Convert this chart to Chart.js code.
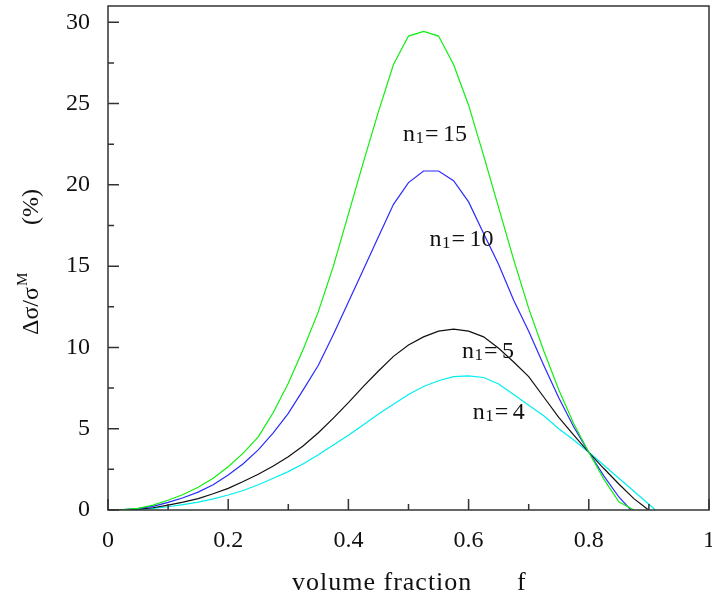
<!DOCTYPE html>
<html>
<head>
<meta charset="utf-8">
<script src="https://cdn.jsdelivr.net/npm/chart.js@4"></script>
<style>
  html, body { margin: 0; padding: 0; background: #fff; }
  #wrap { width: 712px; height: 600px; }
</style>
</head>
<body>
<div id="wrap"><canvas id="line-chart" width="712" height="600"></canvas></div>
<script>
// volume fraction f, sampled every 0.025
var fraction = [
    0, 0.025, 0.05, 0.075, 0.1, 0.125, 0.15, 0.175, 0.2, 0.225,
    0.25, 0.275, 0.3, 0.325, 0.35, 0.375, 0.4, 0.425, 0.45, 0.475,
    0.5, 0.525, 0.55, 0.575, 0.6, 0.625, 0.65, 0.675, 0.7, 0.725,
    0.75, 0.775, 0.8, 0.825, 0.85, 0.875, 0.9, 0.925
];

// delta sigma / sigma^M (%) for each n1
var n15 = [
    0, 0.02, 0.1, 0.3, 0.6, 0.95, 1.4, 1.95, 2.66, 3.5,
    4.5, 6.0, 7.8, 9.9, 12.2, 15.0, 18.2, 21.4, 24.5, 27.4,
    29.15, 29.44, 29.15, 27.4, 24.9, 21.8, 18.6, 15.4, 12.4, 9.8,
    7.4, 5.3, 3.55, 1.9, 0.5, 0
];
var n10 = [
    0, 0.02, 0.08, 0.22, 0.47, 0.75, 1.1, 1.55, 2.15, 2.85,
    3.7, 4.75, 5.94, 7.4, 8.9, 10.8, 12.8, 14.8, 16.8, 18.8,
    20.14, 20.85, 20.85, 20.25, 18.95, 17.0, 15.1, 12.9, 11.0, 8.9,
    6.9, 5.1, 3.55, 2.1, 0.8, -0.2
];
var n5 = [
    0, 0.01, 0.05, 0.14, 0.3, 0.48, 0.7, 1.0, 1.33, 1.75,
    2.2, 2.7, 3.28, 3.95, 4.75, 5.65, 6.6, 7.6, 8.55, 9.45,
    10.15, 10.65, 11.0, 11.12, 11.0, 10.65, 9.95, 9.1, 8.2, 6.95,
    5.7, 4.6, 3.55, 2.55, 1.6, 0.7, -0.02
];
var n4 = [
    0, 0.01, 0.03, 0.1, 0.2, 0.33, 0.48, 0.68, 0.92, 1.2,
    1.55, 1.95, 2.36, 2.85, 3.4, 4.0, 4.6, 5.25, 5.9, 6.5,
    7.1, 7.6, 7.95, 8.2, 8.25, 8.15, 7.75, 7.1, 6.45, 5.8,
    5.0, 4.3, 3.55, 2.75, 1.95, 1.15, 0.35, -0.45
];

var xTicks = [0, 0.2, 0.4, 0.6, 0.8, 1];
var yTicks = [0, 5, 10, 15, 20, 25, 30];
var xMinor = [0.1, 0.3, 0.5, 0.7, 0.9];
var yMinor = [2.5, 7.5, 12.5, 17.5, 22.5, 27.5];

var curveLabels = [
    { n: "15", f: 0.491, v: 22.7 },
    { n: "10", f: 0.535, v: 16.24 },
    { n: "5",  f: 0.589, v: 9.32 },
    { n: "4",  f: 0.607, v: 5.57 }
];

var FONT = "'Liberation Serif', 'Times New Roman', serif";

function pts(arr) {
    return arr.map(function (v, i) { return { x: fraction[i], y: v }; });
}

var decorations = {
    id: "decorations",
    afterDraw: function (chart) {
        var ctx = chart.ctx, a = chart.chartArea;
        var xs = chart.scales.x, ys = chart.scales.y;
        ctx.save();
        ctx.strokeStyle = "#333";
        ctx.lineWidth = 1.5;
        ctx.beginPath();
        // inward ticks
        xTicks.forEach(function (t) {
            var px = xs.getPixelForValue(t);
            ctx.moveTo(px, a.bottom); ctx.lineTo(px, a.bottom - 11);
        });
        xMinor.forEach(function (t) {
            var px = xs.getPixelForValue(t);
            ctx.moveTo(px, a.bottom); ctx.lineTo(px, a.bottom - 6);
        });
        yTicks.forEach(function (t) {
            var py = ys.getPixelForValue(t);
            ctx.moveTo(a.left, py); ctx.lineTo(a.left + 11, py);
        });
        yMinor.forEach(function (t) {
            var py = ys.getPixelForValue(t);
            ctx.moveTo(a.left, py); ctx.lineTo(a.left + 6, py);
        });
        ctx.stroke();
        ctx.strokeRect(a.left, a.top, a.right - a.left, a.bottom - a.top);

        ctx.fillStyle = "#111";
        ctx.textBaseline = "alphabetic";
        ctx.textAlign = "left";
        // curve labels
        curveLabels.forEach(function (l) {
            var x = xs.getPixelForValue(l.f), y = ys.getPixelForValue(l.v);
            ctx.font = "24px " + FONT;
            ctx.fillText("n", x, y);
            ctx.font = "17px " + FONT;
            ctx.fillText("1", x + 12.5, y + 2);
            ctx.font = "24px " + FONT;
            ctx.fillText("=", x + 22, y);
            ctx.fillText(l.n, x + 40, y);
        });

        // x axis title
        ctx.font = "26px " + FONT;
        ctx.letterSpacing = "1px";
        ctx.fillText("volume fraction", 292, 590);
        ctx.fillText("f", 517, 590);
        ctx.letterSpacing = "0px";

        // y axis title (rotated)
        ctx.translate(38, 335);
        ctx.rotate(-Math.PI / 2);
        ctx.font = "24px " + FONT;
        ctx.fillText("\u0394\u03c3/\u03c3", 0, 0);
        var w = ctx.measureText("\u0394\u03c3/\u03c3").width;
        ctx.font = "15px " + FONT;
        ctx.fillText("M", w + 1, -11);
        ctx.font = "24px " + FONT;
        ctx.fillText("(%)", 110, 0);
        ctx.restore();
    }
};

function renderChart() {
    new Chart(document.getElementById("line-chart"), {
        type: "line",
        data: {
            datasets: [
                { label: "n1 = 15", data: pts(n15), borderColor: "#11ee11" },
                { label: "n1 = 10", data: pts(n10), borderColor: "#2a2aff" },
                { label: "n1 = 5", data: pts(n5), borderColor: "#111111" },
                { label: "n1 = 4", data: pts(n4), borderColor: "#00eeee" }
            ]
        },
        options: {
            responsive: false,
            animation: false,
            parsing: false,
            layout: { padding: { top: 6, right: 3, left: 0, bottom: 0 } },
            elements: {
                line: { borderWidth: 1.2, tension: 0, fill: false },
                point: { radius: 0 }
            },
            plugins: {
                legend: { display: false },
                tooltip: { enabled: false }
            },
            scales: {
                x: {
                    type: "linear",
                    min: 0,
                    max: 1,
                    grid: { display: false, drawTicks: false },
                    border: { display: false },
                    afterBuildTicks: function (s) {
                        s.ticks = xTicks.map(function (v) { return { value: v }; });
                    },
                    afterFit: function (s) {
                        s.height = 90;
                        s.paddingLeft = 0;
                        s.paddingRight = 0;
                    },
                    ticks: {
                        padding: 16,
                        color: "#111",
                        font: { family: FONT, size: 24 },
                        maxRotation: 0,
                        callback: function (v) { return String(v); }
                    }
                },
                y: {
                    type: "linear",
                    min: 0,
                    max: 31,
                    grid: { display: false, drawTicks: false },
                    border: { display: false },
                    afterBuildTicks: function (s) {
                        s.ticks = yTicks.map(function (v) { return { value: v }; });
                    },
                    afterFit: function (s) {
                        s.width = 108;
                        s.paddingTop = 0;
                        s.paddingBottom = 0;
                    },
                    ticks: {
                        padding: 18,
                        color: "#111",
                        font: { family: FONT, size: 24 },
                        callback: function (v) { return String(v); }
                    }
                }
            }
        },
        plugins: [decorations]
    });
}

renderChart();
</script>
</body>
</html>
